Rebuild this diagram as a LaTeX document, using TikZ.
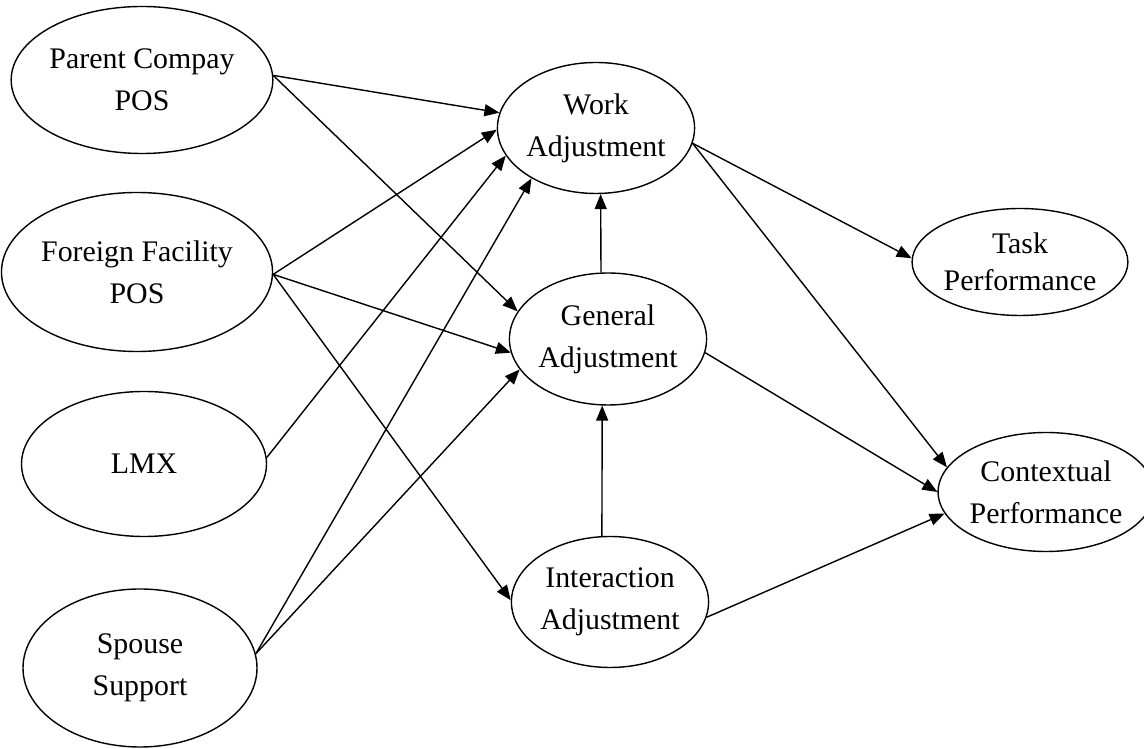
\documentclass[tikz,border=0pt]{standalone}
\usepackage{fontspec}
\setmainfont{Liberation Serif}
\usetikzlibrary{shapes.geometric,arrows.meta}

\begin{document}
\begin{tikzpicture}[
        var/.style={draw, ellipse, line width=0.8pt, inner sep=0pt, align=center,
            font=\fontsize{17}{24}\selectfont},
        path/.style={line width=0.8pt, -{Triangle[length=0.3cm,width=0.24cm]}}
    ]
        \useasboundingbox (0,0) rectangle (22.88,14.98);
        % Antecedents
        \node[var, minimum width=4.98cm, minimum height=2.94cm] (parent) at (2.84,13.38) {Parent Compay\\POS};
        \node[var, minimum width=5.18cm, minimum height=3.18cm] (foreign) at (2.74,9.54) {Foreign Facility\\POS};
        \node[var, minimum width=4.90cm, minimum height=2.90cm] (lmx) at (2.88,5.70) {LMX};
        \node[var, minimum width=4.68cm, minimum height=3.16cm] (spouse) at (2.80,1.62) {Spouse\\Support};
        % Adjustment
        \node[var, minimum width=3.82cm, minimum height=2.62cm] (work) at (11.92,12.42) {Work\\Adjustment};
        \node[var, minimum width=3.80cm, minimum height=2.64cm] (general) at (12.16,8.20) {General\\Adjustment};
        \node[var, minimum width=3.82cm, minimum height=2.62cm] (interact) at (12.20,2.94) {Interaction\\Adjustment};
        % Outcomes
        \node[var, minimum width=3.82cm, minimum height=2.14cm, font=\fontsize{17}{21}\selectfont] (task) at (20.40,9.74) {Task\\Performance};
        \node[var, minimum width=3.90cm, minimum height=2.38cm] (context) at (20.92,5.14) {Contextual\\Performance};

        % Paths to adjustment
        \draw[path] (parent.2) -- (work.171);
        \draw[path] (parent.2) -- (general.163);
        \draw[path] (foreign.-1) -- (work.181);
        \draw[path] (foreign.-1) -- (general.188);
        \draw[path] (foreign.-1) -- (interact.179);
        \draw[path] (lmx.3) -- (work.197);
        \draw[path] (spouse.7) -- (work.218);
        \draw[path] (spouse.7) -- (general.199);
        \draw[path] (general.96) -- (work.-86);
        \draw[path] (interact.97) -- (general.-95);
        % Paths to performance
        \draw[path] (work.-9) -- (task.178);
        \draw[path] (work.-9) -- (context.166);
        \draw[path] (general.-8) -- (context.180);
        \draw[path] (interact.-9) -- (context.192);
    \end{tikzpicture}
\end{document}
